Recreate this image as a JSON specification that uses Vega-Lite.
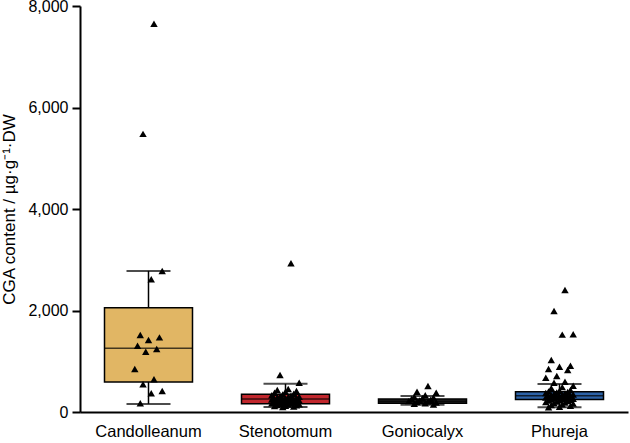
{
  "$schema": "https://vega.github.io/schema/vega-lite/v6.json",
  "width": 548,
  "height": 406,
  "autosize": "none",
  "padding": {"left": 80, "top": 6, "right": 2, "bottom": 31},
  "background": "white",
  "config": {
    "view": {"stroke": null},
    "font": "Liberation Sans",
    "axis": {"grid": false, "domainColor": "#000", "tickColor": "#000", "labelColor": "#000", "titleColor": "#000", "titleFontWeight": "normal"}
  },
  "datasets": {
    "boxes": [
      {"cultivar": "Candolleanum", "lower": 160, "q1": 590, "median": 1255, "q3": 2055, "upper": 2780},
      {"cultivar": "Stenotomum", "lower": 100, "q1": 165, "median": 255, "q3": 350, "upper": 555},
      {"cultivar": "Goniocalyx", "lower": 145, "q1": 170, "median": 210, "q3": 255, "upper": 315},
      {"cultivar": "Phureja", "lower": 95, "q1": 245, "median": 320, "q3": 400, "upper": 550}
    ],
    "points": [
      {"cultivar": "Candolleanum", "cga": 7650}, {"cultivar": "Candolleanum", "cga": 5480}, {"cultivar": "Candolleanum", "cga": 2780}, {"cultivar": "Candolleanum", "cga": 2615},
      {"cultivar": "Candolleanum", "cga": 1517}, {"cultivar": "Candolleanum", "cga": 1471}, {"cultivar": "Candolleanum", "cga": 1418}, {"cultivar": "Candolleanum", "cga": 1306},
      {"cultivar": "Candolleanum", "cga": 1241}, {"cultivar": "Candolleanum", "cga": 1188}, {"cultivar": "Candolleanum", "cga": 847}, {"cultivar": "Candolleanum", "cga": 644},
      {"cultivar": "Candolleanum", "cga": 546}, {"cultivar": "Candolleanum", "cga": 414}, {"cultivar": "Candolleanum", "cga": 368}, {"cultivar": "Candolleanum", "cga": 171},
      {"cultivar": "Stenotomum", "cga": 2930}, {"cultivar": "Stenotomum", "cga": 729}, {"cultivar": "Stenotomum", "cga": 578}, {"cultivar": "Stenotomum", "cga": 453},
      {"cultivar": "Stenotomum", "cga": 433}, {"cultivar": "Stenotomum", "cga": 414}, {"cultivar": "Stenotomum", "cga": 400}, {"cultivar": "Stenotomum", "cga": 380},
      {"cultivar": "Stenotomum", "cga": 360}, {"cultivar": "Stenotomum", "cga": 345}, {"cultivar": "Stenotomum", "cga": 330}, {"cultivar": "Stenotomum", "cga": 320},
      {"cultivar": "Stenotomum", "cga": 310}, {"cultivar": "Stenotomum", "cga": 300}, {"cultivar": "Stenotomum", "cga": 295}, {"cultivar": "Stenotomum", "cga": 285},
      {"cultivar": "Stenotomum", "cga": 275}, {"cultivar": "Stenotomum", "cga": 270}, {"cultivar": "Stenotomum", "cga": 262}, {"cultivar": "Stenotomum", "cga": 255},
      {"cultivar": "Stenotomum", "cga": 250}, {"cultivar": "Stenotomum", "cga": 245}, {"cultivar": "Stenotomum", "cga": 240}, {"cultivar": "Stenotomum", "cga": 232},
      {"cultivar": "Stenotomum", "cga": 225}, {"cultivar": "Stenotomum", "cga": 218}, {"cultivar": "Stenotomum", "cga": 210}, {"cultivar": "Stenotomum", "cga": 205},
      {"cultivar": "Stenotomum", "cga": 198}, {"cultivar": "Stenotomum", "cga": 190}, {"cultivar": "Stenotomum", "cga": 185}, {"cultivar": "Stenotomum", "cga": 178},
      {"cultivar": "Stenotomum", "cga": 170}, {"cultivar": "Stenotomum", "cga": 165}, {"cultivar": "Stenotomum", "cga": 160}, {"cultivar": "Stenotomum", "cga": 152},
      {"cultivar": "Stenotomum", "cga": 145}, {"cultivar": "Stenotomum", "cga": 138}, {"cultivar": "Stenotomum", "cga": 130}, {"cultivar": "Stenotomum", "cga": 122},
      {"cultivar": "Stenotomum", "cga": 115}, {"cultivar": "Stenotomum", "cga": 108}, {"cultivar": "Stenotomum", "cga": 100},
      {"cultivar": "Goniocalyx", "cga": 512}, {"cultivar": "Goniocalyx", "cga": 400}, {"cultivar": "Goniocalyx", "cga": 380}, {"cultivar": "Goniocalyx", "cga": 330},
      {"cultivar": "Goniocalyx", "cga": 300}, {"cultivar": "Goniocalyx", "cga": 285}, {"cultivar": "Goniocalyx", "cga": 270}, {"cultivar": "Goniocalyx", "cga": 255},
      {"cultivar": "Goniocalyx", "cga": 240}, {"cultivar": "Goniocalyx", "cga": 225}, {"cultivar": "Goniocalyx", "cga": 215}, {"cultivar": "Goniocalyx", "cga": 205},
      {"cultivar": "Goniocalyx", "cga": 195}, {"cultivar": "Goniocalyx", "cga": 185}, {"cultivar": "Goniocalyx", "cga": 172}, {"cultivar": "Goniocalyx", "cga": 160},
      {"cultivar": "Goniocalyx", "cga": 148},
      {"cultivar": "Phureja", "cga": 2404}, {"cultivar": "Phureja", "cga": 1990}, {"cultivar": "Phureja", "cga": 1531}, {"cultivar": "Phureja", "cga": 1525},
      {"cultivar": "Phureja", "cga": 1025}, {"cultivar": "Phureja", "cga": 913}, {"cultivar": "Phureja", "cga": 893}, {"cultivar": "Phureja", "cga": 847},
      {"cultivar": "Phureja", "cga": 828}, {"cultivar": "Phureja", "cga": 709}, {"cultivar": "Phureja", "cga": 676}, {"cultivar": "Phureja", "cga": 597},
      {"cultivar": "Phureja", "cga": 578}, {"cultivar": "Phureja", "cga": 518}, {"cultivar": "Phureja", "cga": 490}, {"cultivar": "Phureja", "cga": 470},
      {"cultivar": "Phureja", "cga": 433}, {"cultivar": "Phureja", "cga": 420}, {"cultivar": "Phureja", "cga": 405}, {"cultivar": "Phureja", "cga": 395},
      {"cultivar": "Phureja", "cga": 385}, {"cultivar": "Phureja", "cga": 375}, {"cultivar": "Phureja", "cga": 365}, {"cultivar": "Phureja", "cga": 355},
      {"cultivar": "Phureja", "cga": 345}, {"cultivar": "Phureja", "cga": 338}, {"cultivar": "Phureja", "cga": 330}, {"cultivar": "Phureja", "cga": 322},
      {"cultivar": "Phureja", "cga": 315}, {"cultivar": "Phureja", "cga": 308}, {"cultivar": "Phureja", "cga": 300}, {"cultivar": "Phureja", "cga": 292},
      {"cultivar": "Phureja", "cga": 285}, {"cultivar": "Phureja", "cga": 278}, {"cultivar": "Phureja", "cga": 270}, {"cultivar": "Phureja", "cga": 262},
      {"cultivar": "Phureja", "cga": 255}, {"cultivar": "Phureja", "cga": 248}, {"cultivar": "Phureja", "cga": 240}, {"cultivar": "Phureja", "cga": 232},
      {"cultivar": "Phureja", "cga": 225}, {"cultivar": "Phureja", "cga": 215}, {"cultivar": "Phureja", "cga": 205}, {"cultivar": "Phureja", "cga": 195},
      {"cultivar": "Phureja", "cga": 185}, {"cultivar": "Phureja", "cga": 175}, {"cultivar": "Phureja", "cga": 165}, {"cultivar": "Phureja", "cga": 150},
      {"cultivar": "Phureja", "cga": 135}, {"cultivar": "Phureja", "cga": 120}, {"cultivar": "Phureja", "cga": 105}, {"cultivar": "Phureja", "cga": 95}
    ]
  },
  "layer": [
    {
      "data": {"name": "boxes"},
      "mark": {"type": "rule", "color": "#000", "strokeWidth": 1.5},
      "encoding": {
        "x": {
          "field": "cultivar", "type": "nominal",
          "sort": ["Candolleanum", "Stenotomum", "Goniocalyx", "Phureja"],
          "scale": {"paddingInner": 0, "paddingOuter": 0},
          "axis": {"title": null, "labelAngle": 0, "ticks": false, "labelFontSize": 16.5, "labelPadding": 11, "domainWidth": 2}
        },
        "y": {
          "field": "lower", "type": "quantitative",
          "scale": {"domain": [0, 8000], "nice": false, "zero": true},
          "axis": {"title": "CGA content / µg·g⁻¹·DW", "values": [0, 2000, 4000, 6000, 8000], "format": ",.0f", "labelFontSize": 16, "titleFontSize": 17, "tickSize": 8, "tickWidth": 2, "domainWidth": 2, "labelPadding": 4, "titlePadding": 9}
        },
        "y2": {"field": "upper"}
      }
    },
    {
      "data": {"name": "boxes"},
      "mark": {"type": "tick", "color": "#000", "size": 44, "thickness": 2},
      "encoding": {
        "x": {"field": "cultivar", "type": "nominal", "sort": ["Candolleanum", "Stenotomum", "Goniocalyx", "Phureja"]},
        "y": {"field": "lower", "type": "quantitative", "title": "CGA content / µg·g⁻¹·DW"}
      }
    },
    {
      "data": {"name": "boxes"},
      "mark": {"type": "tick", "color": "#000", "size": 44, "thickness": 2},
      "encoding": {
        "x": {"field": "cultivar", "type": "nominal", "sort": ["Candolleanum", "Stenotomum", "Goniocalyx", "Phureja"]},
        "y": {"field": "upper", "type": "quantitative", "title": "CGA content / µg·g⁻¹·DW"}
      }
    },
    {
      "data": {"name": "boxes"},
      "mark": {"type": "bar", "size": 88, "stroke": "#000", "strokeWidth": 1.5},
      "encoding": {
        "x": {"field": "cultivar", "type": "nominal", "sort": ["Candolleanum", "Stenotomum", "Goniocalyx", "Phureja"]},
        "y": {"field": "q1", "type": "quantitative", "title": "CGA content / µg·g⁻¹·DW"},
        "y2": {"field": "q3"},
        "color": {
          "field": "cultivar", "type": "nominal", "legend": null,
          "scale": {"domain": ["Candolleanum", "Stenotomum", "Goniocalyx", "Phureja"], "range": ["#E1B664", "#C1272D", "#262626", "#2D62A6"]}
        }
      }
    },
    {
      "data": {"name": "boxes"},
      "mark": {"type": "tick", "color": "#000", "size": 88, "thickness": 1.5},
      "encoding": {
        "x": {"field": "cultivar", "type": "nominal", "sort": ["Candolleanum", "Stenotomum", "Goniocalyx", "Phureja"]},
        "y": {"field": "median", "type": "quantitative", "title": "CGA content / µg·g⁻¹·DW"}
      }
    },
    {
      "data": {"name": "points"},
      "transform": [
        {"window": [{"op": "row_number", "as": "rn"}], "groupby": ["cultivar"]},
        {"calculate": "((datum.rn * 7) % 11 - 5) / 5", "as": "jitter"}
      ],
      "mark": {"type": "point", "shape": "triangle-up", "filled": true, "color": "#000", "opacity": 1, "size": 55},
      "encoding": {
        "x": {"field": "cultivar", "type": "nominal", "sort": ["Candolleanum", "Stenotomum", "Goniocalyx", "Phureja"]},
        "xOffset": {"field": "jitter", "type": "quantitative", "scale": {"domain": [-5, 5]}},
        "y": {"field": "cga", "type": "quantitative", "title": "CGA content / µg·g⁻¹·DW"}
      }
    }
  ]
}
